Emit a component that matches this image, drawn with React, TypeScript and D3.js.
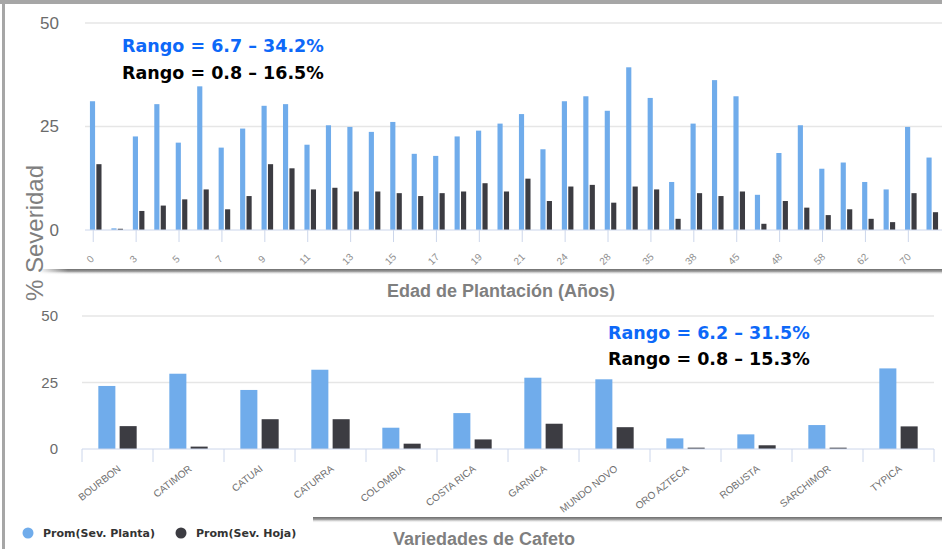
import React from "react";
import * as d3 from "d3";

const ageCategories = ["0","2","3","4","5","6","7","8","9","10","11","12","13","14","15","16","17","18","19","20","21","22","24","25","28","30","35","36","38","40","45","46","48","50","58","60","62","65","70","80"];
const ageLabelStep = 2;
const agePlanta = [31.1,0.4,22.6,30.4,21.1,34.7,19.9,24.5,30.0,30.4,20.6,25.3,24.9,23.7,26.1,18.4,17.9,22.6,24.0,25.7,28.0,19.5,31.1,32.3,28.8,39.3,31.9,11.6,25.7,36.2,32.3,8.5,18.6,25.3,14.8,16.3,11.6,9.8,24.9,17.5];
const ageHoja = [15.9,0.3,4.6,5.9,7.4,9.8,5.0,8.2,15.9,14.9,9.8,10.2,9.3,9.3,8.9,8.2,8.9,9.3,11.3,9.3,12.4,7.0,10.5,10.9,6.6,10.5,9.8,2.7,8.9,8.2,9.3,1.5,7.0,5.4,3.6,5.0,2.7,1.9,8.9,4.3];

const varieties = ["BOURBON","CATIMOR","CATUAI","CATURRA","COLOMBIA","COSTA RICA","GARNICA","MUNDO NOVO","ORO AZTECA","ROBUSTA","SARCHIMOR","TYPICA"];
const varPlanta = [23.7,28.3,22.2,29.8,8.0,13.5,26.8,26.2,4.0,5.5,9.0,30.3];
const varHoja = [8.6,0.9,11.2,11.2,2.0,3.6,9.5,8.2,0.5,1.4,0.5,8.5];

const yTicks = [0, 25, 50];
const seriesNames = ["Prom(Sev. Planta)", "Prom(Sev. Hoja)"];
const seriesColors = ["#70aceb", "#3c3c42"];

const topRango = ["Rango = 6.7 – 34.2%", "Rango = 0.8 – 16.5%"];
const bottomRango = ["Rango = 6.2 – 31.5%", "Rango = 0.8 – 15.3%"];

const W = 942, H = 549;
const AXIS = "#ccd6eb";
const GRID = "#e6e6e6";

function Bars({ cats, a, b, x, y }: any) {
  const bw = x.bandwidth();
  const group = bw * 0.6;
  const slot = group / 2;
  const pw = slot * 0.8;
  return (
    <g>
      {cats.map((c: string, i: number) => {
        const x0 = (x(c) as number) + bw * 0.2;
        return (
          <g key={c}>
            <rect x={x0 + slot * 0.1} y={y(a[i])} width={pw} height={y(0) - y(a[i])} fill={seriesColors[0]} />
            <rect x={x0 + slot + slot * 0.1} y={y(b[i])} width={pw} height={y(0) - y(b[i])} fill={seriesColors[1]} />
          </g>
        );
      })}
    </g>
  );
}

export default function App() {
  const xTop = d3.scaleBand<string>().domain(ageCategories).range([85, 943]).padding(0);
  const yTop = d3.scaleLinear().domain([0, 50]).range([230, 23]);
  const xBot = d3.scaleBand<string>().domain(varieties).range([82, 934]).padding(0);
  const yBot = d3.scaleLinear().domain([0, 50]).range([449, 316]);

  const font = "'Liberation Sans', Arial, sans-serif";

  return (
    <svg width={W} height={H} viewBox={`0 0 ${W} ${H}`} style={{ position: "absolute", left: 0, top: 0, background: "#fff" }}>
      <defs>
        <linearGradient id="shadowG" x1="0" y1="0" x2="0" y2="1">
          <stop offset="0" stopColor="#6e6e6e" />
          <stop offset="0.4" stopColor="#9a9a9a" />
          <stop offset="1" stopColor="#ffffff" stopOpacity="0" />
        </linearGradient>
        <linearGradient id="shadowL" x1="0" y1="0" x2="1" y2="0">
          <stop offset="0" stopColor="#fff" stopOpacity="1" />
          <stop offset="1" stopColor="#fff" stopOpacity="0" />
        </linearGradient>
      </defs>
      <rect x={0} y={0} width={W} height={H} fill="#fff" />
      <rect x={0} y={0} width={W} height={4} fill="#a6a6a6" />
      <rect x={2} y={0} width={3} height={H} fill="#a6a6a6" />

      {/* TOP CHART */}
      <g fontFamily={font}>
        {yTicks.filter((t) => t > 0).map((t) => (
          <line key={t} x1={85} x2={943} y1={yTop(t)} y2={yTop(t)} stroke={GRID} strokeWidth={1.5} />
        ))}
        {yTicks.map((t) => (
          <text key={t} x={59} y={yTop(t)} dy="0.35em" textAnchor="end" fontSize={17} fill="#6b6b6b">{t}</text>
        ))}
        <Bars cats={ageCategories} a={agePlanta} b={ageHoja} x={xTop} y={yTop} />
        <line x1={85} x2={943} y1={yTop(0)} y2={yTop(0)} stroke={AXIS} strokeWidth={1} />
        {ageCategories.map((c, i) => {
          if (i % ageLabelStep !== 0) return null;
          const cx = (xTop(c) as number) + xTop.bandwidth() / 2 - 2.5;
          return (
            <g key={c}>
              <line x1={cx} x2={cx} y1={230} y2={242} stroke={AXIS} />
              <text transform={`translate(${cx - 3},${259}) rotate(-45)`} textAnchor="middle" dy="0.35em" fontSize={10} fill="#8f8f8f">{c}</text>
            </g>
          );
        })}
        <text x={122} y={52} fontFamily="'DejaVu Sans', sans-serif" fontWeight="bold" fontSize={17.5} fill="#0d68f8">{topRango[0]}</text>
        <text x={122} y={79} fontFamily="'DejaVu Sans', sans-serif" fontWeight="bold" fontSize={17.5} fill="#000">{topRango[1]}</text>
        <rect x={40} y={269} width={903} height={6} fill="url(#shadowG)" />
        <rect x={38} y={268} width={30} height={8} fill="url(#shadowL)" />
        <text transform="translate(43,233) rotate(-90)" textAnchor="middle" fontSize={24} fill="#7f7f7f">% Severidad</text>
        <text x={501} y={297} textAnchor="middle" fontWeight="bold" fontSize={18} fill="#7f7f7f">Edad de Plantación (Años)</text>
      </g>

      {/* BOTTOM CHART */}
      <g fontFamily={font}>
        {yTicks.filter((t) => t > 0).map((t) => (
          <line key={t} x1={82} x2={934} y1={yBot(t)} y2={yBot(t)} stroke={GRID} strokeWidth={1.5} />
        ))}
        {yTicks.map((t) => (
          <text key={t} x={58} y={yBot(t)} dy="0.35em" textAnchor="end" fontSize={15} fill="#6b6b6b">{t}</text>
        ))}
        <Bars cats={varieties} a={varPlanta} b={varHoja} x={xBot} y={yBot} />
        <line x1={82} x2={934} y1={yBot(0)} y2={yBot(0)} stroke={AXIS} strokeWidth={1} />
        {[...varieties.map((c) => xBot(c) as number), 934].map((px, i) => (
          <line key={i} x1={px} x2={px} y1={449} y2={462} stroke={AXIS} />
        ))}
        {varieties.map((c) => {
          const cx = (xBot(c) as number) + xBot.bandwidth() / 2 + 4;
          return (
            <text key={c} transform={`translate(${cx},${470}) rotate(-38)`} textAnchor="end" fontSize={10} fill="#707070">{c}</text>
          );
        })}
        <text x={608} y={339} fontFamily="'DejaVu Sans', sans-serif" fontWeight="bold" fontSize={17.5} fill="#0d68f8">{bottomRango[0]}</text>
        <text x={608} y={365} fontFamily="'DejaVu Sans', sans-serif" fontWeight="bold" fontSize={17.5} fill="#000">{bottomRango[1]}</text>
        <rect x={313} y={517} width={630} height={6} fill="url(#shadowG)" />
        <text x={484} y={545} textAnchor="middle" fontWeight="bold" fontSize={18} fill="#7f7f7f">Variedades de Cafeto</text>
      </g>

      {/* LEGEND */}
      <g fontFamily="'DejaVu Sans', sans-serif">
        {seriesNames.map((n, i) => {
          const lx = i === 0 ? 28 : 181;
          return (
            <g key={n}>
              <circle cx={lx} cy={533} r={5.5} fill={seriesColors[i]} />
              <text x={lx + 15} y={537} fontSize={11} fontWeight="bold" fill="#333">{n}</text>
            </g>
          );
        })}
      </g>
    </svg>
  );
}
